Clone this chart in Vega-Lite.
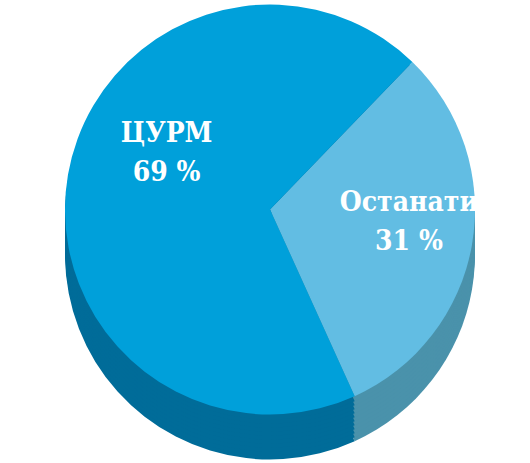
{
  "$schema": "https://vega.github.io/schema/vega-lite/v6.json",
  "width": 540,
  "height": 463,
  "autosize": "none",
  "padding": 0,
  "background": "white",
  "view": {"stroke": null},
  "data": {
    "values": [
      {"category": "Останати", "value": 31, "label": "Останати\n31 %", "order": 1},
      {"category": "ЦУРМ", "value": 69, "label": "ЦУРМ\n69 %", "order": 2}
    ]
  },
  "encoding": {
    "theta": {"field": "value", "type": "quantitative", "stack": true, "scale": {"range": [0.768, 7.051]}},
    "order": {"field": "order", "type": "ordinal"}
  },
  "layer": [
    {
      "layer": [
        {"mark": {"type": "arc", "radius": 205, "yOffset": 23}},
        {"mark": {"type": "arc", "radius": 205, "yOffset": 19}},
        {"mark": {"type": "arc", "radius": 205, "yOffset": 15}},
        {"mark": {"type": "arc", "radius": 205, "yOffset": 11}},
        {"mark": {"type": "arc", "radius": 205, "yOffset": 7}},
        {"mark": {"type": "arc", "radius": 205, "yOffset": 3}},
        {"mark": {"type": "arc", "radius": 205, "yOffset": -1}},
        {"mark": {"type": "arc", "radius": 205, "yOffset": -5}},
        {"mark": {"type": "arc", "radius": 205, "yOffset": -9}},
        {"mark": {"type": "arc", "radius": 205, "yOffset": -13}},
        {"mark": {"type": "arc", "radius": 205, "yOffset": -17}}
      ],
      "encoding": {"color": {"field": "category", "type": "nominal", "scale": {"domain": ["ЦУРМ", "Останати"], "range": ["#006c99", "#4a92ab"]}, "legend": null}}
    },
    {
      "layer": [
        {"mark": {"type": "arc", "radius": 205, "yOffset": -22}},
        {"mark": {"type": "text", "radius": 115, "dx": 10, "dy": -78, "lineBreak": "\n", "font": "DejaVu Serif Condensed", "fontWeight": "bold", "fontSize": 28, "lineHeight": 39, "align": "center", "baseline": "middle"},
         "encoding": {"text": {"condition": {"test": "datum.category === 'ЦУРМ'", "field": "label"}, "value": ""}, "color": {"value": "white"}}},
        {"mark": {"type": "text", "radius": 140, "dx": 1, "dy": -52, "lineBreak": "\n", "font": "DejaVu Serif Condensed", "fontWeight": "bold", "fontSize": 28, "lineHeight": 39, "align": "center", "baseline": "middle"},
         "encoding": {"text": {"condition": {"test": "datum.category === 'Останати'", "field": "label"}, "value": ""}, "color": {"value": "white"}}}
      ],
      "encoding": {"color": {"field": "category", "type": "nominal", "scale": {"domain": ["ЦУРМ", "Останати"], "range": ["#00a0da", "#62bde3"]}, "legend": null}}
    }
  ],
  "resolve": {"scale": {"color": "independent"}}
}
